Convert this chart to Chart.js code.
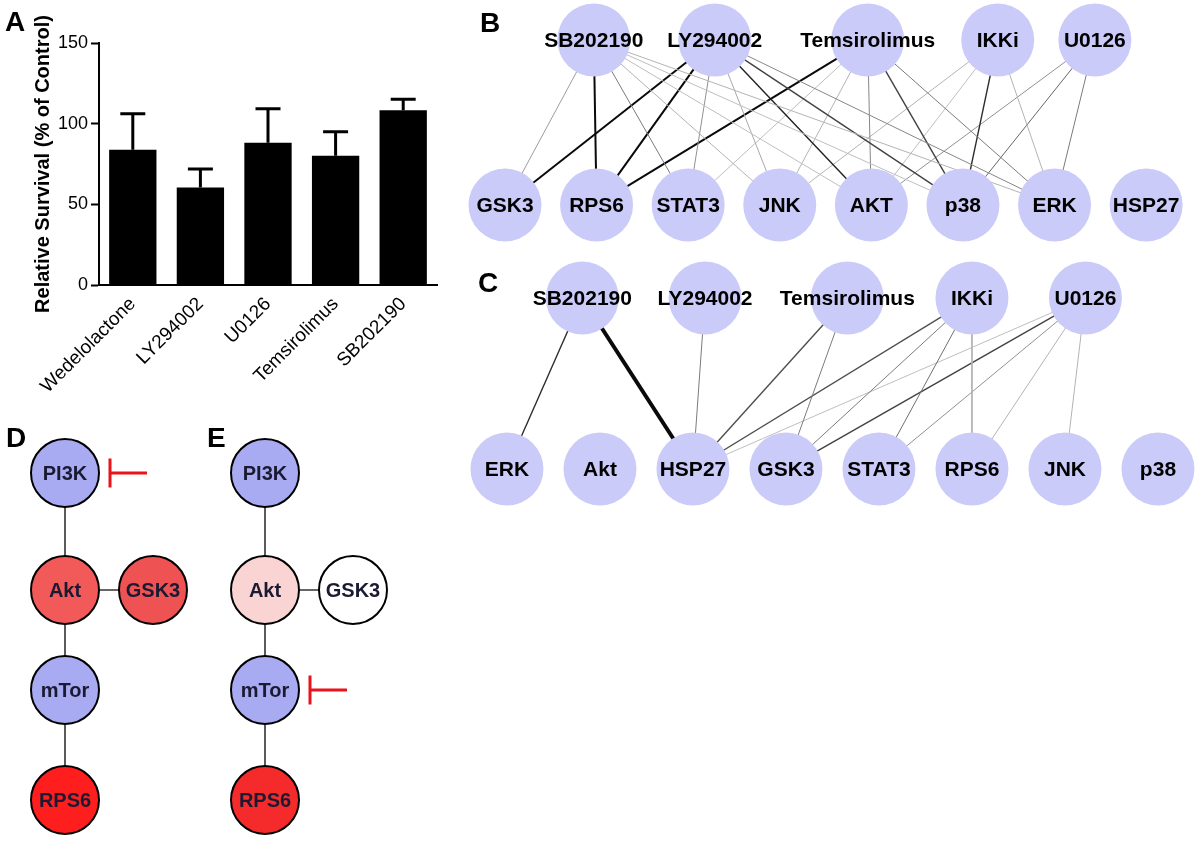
<!DOCTYPE html>
<html>
<head>
<meta charset="utf-8">
<script src="https://cdn.jsdelivr.net/npm/chart.js@4.4.0/dist/chart.umd.min.js"></script>
<style>
  body { margin: 0; background: #fff; }
  #page { position: relative; width: 1200px; height: 850px; background: #fff; overflow: hidden; }
  canvas { position: absolute; }
  .tag { position: absolute; font: bold 28px 'Liberation Sans', Arial, sans-serif; line-height: 28px; color: #000; }
</style>
</head>
<body>
<div id="page">
  <canvas id="chart-a" width="460" height="420" style="left:0;top:0"></canvas>
  <canvas id="chart-b" width="740" height="250" style="left:460px;top:0"></canvas>
  <canvas id="chart-c" width="740" height="300" style="left:460px;top:250px"></canvas>
  <canvas id="chart-de" width="420" height="430" style="left:0;top:420px"></canvas>
  <div class="tag" style="left:5px;top:8px">A</div>
  <div class="tag" style="left:480px;top:9px">B</div>
  <div class="tag" style="left:478px;top:269px">C</div>
  <div class="tag" style="left:6px;top:424px">D</div>
  <div class="tag" style="left:207px;top:424px">E</div>
</div>
<script>
/* Panel A: supervivencia relativa por inhibidor
   Paneles B/C: redes fármaco -> proteína
   Paneles D/E: vía PI3K/Akt/mTor */

const FONT = "'Liberation Sans', Arial, sans-serif";

// ── Datos panel A ────────────────────────────────────────────
const drugs    = ['Wedelolactone', 'LY294002', 'U0126', 'Temsirolimus', 'SB202190'];
const survival = [83.9, 60.5, 88.2, 80.1, 108.3];
const semUp    = [22.3, 11.4, 21.1, 14.9, 6.8];
const yTicks   = [0, 50, 100, 150];

// ── Datos panel B ────────────────────────────────────────────
const bDrugs     = ['SB202190', 'LY294002', 'Temsirolimus', 'IKKi', 'U0126'];
const bDrugSlots = [0.97, 2.29, 3.96, 5.38, 6.44];
const bTargets   = ['GSK3', 'RPS6', 'STAT3', 'JNK', 'AKT', 'p38', 'ERK', 'HSP27'];
const bEdges = [
  ['SB202190', 'GSK3', 0.35], ['SB202190', 'RPS6', 1.0], ['SB202190', 'STAT3', 0.5],
  ['SB202190', 'JNK', 0.25], ['SB202190', 'AKT', 0.2], ['SB202190', 'p38', 0.2],
  ['SB202190', 'ERK', 0.25],
  ['LY294002', 'GSK3', 1.0], ['LY294002', 'RPS6', 1.0], ['LY294002', 'STAT3', 0.4],
  ['LY294002', 'JNK', 0.3], ['LY294002', 'AKT', 0.9], ['LY294002', 'p38', 0.75],
  ['LY294002', 'ERK', 0.45],
  ['Temsirolimus', 'RPS6', 1.0], ['Temsirolimus', 'STAT3', 0.2], ['Temsirolimus', 'JNK', 0.25],
  ['Temsirolimus', 'AKT', 0.45], ['Temsirolimus', 'p38', 0.75], ['Temsirolimus', 'ERK', 0.5],
  ['IKKi', 'JNK', 0.25], ['IKKi', 'AKT', 0.2], ['IKKi', 'p38', 0.85], ['IKKi', 'ERK', 0.25],
  ['U0126', 'AKT', 0.4], ['U0126', 'p38', 0.6], ['U0126', 'ERK', 0.5]
];

// ── Datos panel C ────────────────────────────────────────────
const cDrugs     = ['SB202190', 'LY294002', 'Temsirolimus', 'IKKi', 'U0126'];
const cDrugSlots = [0.81, 2.13, 3.66, 5.0, 6.22];
const cTargets   = ['ERK', 'Akt', 'HSP27', 'GSK3', 'STAT3', 'RPS6', 'JNK', 'p38'];
const cEdges = [
  ['SB202190', 'ERK', 0.85], ['SB202190', 'HSP27', 1.5],
  ['LY294002', 'HSP27', 0.5],
  ['Temsirolimus', 'HSP27', 0.7], ['Temsirolimus', 'GSK3', 0.5],
  ['IKKi', 'HSP27', 0.7], ['IKKi', 'GSK3', 0.5], ['IKKi', 'STAT3', 0.55], ['IKKi', 'RPS6', 0.25],
  ['U0126', 'HSP27', 0.2], ['U0126', 'GSK3', 0.75], ['U0126', 'STAT3', 0.4],
  ['U0126', 'RPS6', 0.25], ['U0126', 'JNK', 0.25]
];

// ── Datos paneles D/E ────────────────────────────────────────
const pathNodes   = ['PI3K', 'Akt', 'GSK3', 'mTor', 'RPS6'];
const pathColumn  = [0, 0, 1, 0, 0];           // 0 = eje principal, 1 = lateral
const pathLevel   = [0.53, 1.70, 1.70, 2.70, 3.80];
const pathEdges   = [['PI3K', 'Akt'], ['Akt', 'GSK3'], ['Akt', 'mTor'], ['mTor', 'RPS6']];
const dColors     = ['#a9abf2', '#f25a5a', '#ef5252', '#a9abf2', '#ff1e1e'];
const eColors     = ['#a9abf2', '#fad3d3', '#ffffff', '#a9abf2', '#f52b2b'];
const dInhibited  = 'PI3K';
const eInhibited  = 'mTor';
const panelOrigin = { D: 0.65, E: 2.65 };
const sideOffset  = 0.88;

// ── Plugins ──────────────────────────────────────────────────

const errorBars = {
  id: 'errorBars',
  afterDatasetsDraw(chart) {
    const ctx = chart.ctx, y = chart.scales.y;
    const meta = chart.getDatasetMeta(0);
    ctx.save();
    ctx.strokeStyle = '#000';
    ctx.lineWidth = 3;
    meta.data.forEach((bar, i) => {
      const top = y.getPixelForValue(survival[i]);
      const hi  = y.getPixelForValue(survival[i] + semUp[i]);
      ctx.beginPath();
      ctx.moveTo(bar.x, top);
      ctx.lineTo(bar.x, hi);
      ctx.moveTo(bar.x - 12.5, hi);
      ctx.lineTo(bar.x + 12.5, hi);
      ctx.stroke();
    });
    ctx.restore();
  }
};

const nodeLabels = {
  id: 'nodeLabels',
  afterDatasetsDraw(chart) {
    const ctx = chart.ctx;
    chart.data.datasets.forEach((ds, i) => {
      if (!ds.isNodes) return;
      const meta = chart.getDatasetMeta(i);
      ctx.save();
      ctx.font = ds.labelFont;
      ctx.fillStyle = ds.labelColor;
      ctx.textAlign = 'center';
      ctx.textBaseline = 'middle';
      meta.data.forEach((pt, j) => ctx.fillText(ds.data[j].label, pt.x, pt.y + 1));
      ctx.restore();
    });
  }
};

// ── Panel A ──────────────────────────────────────────────────

new Chart(document.getElementById('chart-a'), {
  type: 'bar',
  data: {
    labels: drugs,
    datasets: [{
      data: survival,
      backgroundColor: '#000',
      borderWidth: 0,
      categoryPercentage: 1,
      barPercentage: 0.7
    }]
  },
  options: {
    responsive: false,
    animation: false,
    layout: { padding: { top: 43, right: 23, bottom: 0, left: 29 } },
    plugins: { legend: { display: false }, tooltip: { enabled: false } },
    scales: {
      y: {
        min: 0, max: 150,
        afterBuildTicks: s => { s.ticks = yTicks.map(v => ({ value: v })); },
        afterFit: s => { s.width = 70; },
        ticks: { font: { family: FONT, size: 18 }, color: '#000', padding: 3 },
        grid: { drawOnChartArea: false, tickLength: 8, tickWidth: 2, color: '#000' },
        border: { color: '#000', width: 2 },
        title: {
          display: true, text: 'Relative Survival (% of Control)', color: '#000',
          font: { family: FONT, size: 20, weight: 'bold' }, padding: { top: 2, bottom: 0 }
        }
      },
      x: {
        afterFit: s => { s.height = 135; },
        ticks: { minRotation: 45, maxRotation: 45, font: { family: FONT, size: 19 }, color: '#000', padding: 8 },
        grid: { display: true, drawOnChartArea: false, drawTicks: false },
        border: { color: '#000', width: 2 }
      }
    }
  },
  plugins: [errorBars]
});

// ── Paneles B y C (redes) ────────────────────────────────────

function edgeGray(w) {
  const g = Math.max(0, Math.round(235 - 225 * Math.min(w, 1)));
  return `rgb(${g},${g},${g})`;
}
function edgeWidth(w) {
  if (w >= 1.4) return 4;
  if (w >= 0.95) return 2;
  if (w >= 0.7) return 1.4;
  return 1;
}

function drawNetwork(id, topNames, topSlots, bottomNames, edges, xr, yr) {
  const pos = {};
  topNames.forEach((n, i) => { pos['t:' + n] = { x: topSlots[i], y: 1 }; });
  bottomNames.forEach((n, i) => { pos['b:' + n] = { x: i, y: 0 }; });

  const nodes = [
    ...topNames.map(n => ({ ...pos['t:' + n], label: n })),
    ...bottomNames.map(n => ({ ...pos['b:' + n], label: n }))
  ];

  const edgeSets = edges.map(([a, b, w]) => ({
    data: [pos['t:' + a], pos['b:' + b]],
    showLine: true,
    borderColor: edgeGray(w),
    borderWidth: edgeWidth(w),
    pointRadius: 0,
    clip: false,
    order: 1
  }));

  new Chart(document.getElementById(id), {
    type: 'scatter',
    data: {
      datasets: [{
        isNodes: true,
        labelFont: `bold 21px ${FONT}`,
        labelColor: '#000',
        data: nodes,
        pointRadius: 36.5,
        pointHoverRadius: 36.5,
        pointBackgroundColor: '#cbcbf9',
        pointBorderWidth: 0,
        clip: false,
        order: 0
      }, ...edgeSets]
    },
    options: {
      responsive: false,
      animation: false,
      layout: { padding: 0, autoPadding: false },
      plugins: { legend: { display: false }, tooltip: { enabled: false } },
      scales: {
        x: { type: 'linear', display: false, min: xr[0], max: xr[1] },
        y: { type: 'linear', display: false, min: yr[0], max: yr[1] }
      }
    },
    plugins: [nodeLabels]
  });
}

drawNetwork('chart-b', bDrugs, bDrugSlots, bTargets, bEdges, [-0.491, 7.588], [-0.273, 1.242]);
drawNetwork('chart-c', cDrugs, cDrugSlots, cTargets, cEdges, [-0.505, 7.452], [-0.474, 1.281]);

// ── Paneles D y E (vía de señalización) ──────────────────────

function pathPoints(panel) {
  return pathNodes.map((n, i) => ({
    x: panelOrigin[panel] + pathColumn[i] * sideOffset,
    y: pathLevel[i],
    label: n
  }));
}

function inhibitorSets(panel, target) {
  const i = pathNodes.indexOf(target);
  const bx = panelOrigin[panel] + 0.45, ex = bx + 0.37, cy = pathLevel[i];
  const style = { showLine: true, borderColor: '#e8141a', borderWidth: 3, pointRadius: 0, clip: false, order: 1 };
  return [
    { ...style, data: [{ x: bx, y: cy }, { x: ex, y: cy }] },
    { ...style, data: [{ x: bx, y: cy - 0.145 }, { x: bx, y: cy + 0.145 }] }
  ];
}

const dPts = pathPoints('D'), ePts = pathPoints('E');
const pathEdgeSets = [];
[dPts, ePts].forEach(pts => {
  pathEdges.forEach(([a, b]) => {
    pathEdgeSets.push({
      data: [pts[pathNodes.indexOf(a)], pts[pathNodes.indexOf(b)]],
      showLine: true, borderColor: '#333', borderWidth: 1.6, pointRadius: 0, clip: false, order: 1
    });
  });
});

const pathNodeStyle = {
  isNodes: true,
  labelFont: `bold 20px ${FONT}`,
  labelColor: '#1a1a33',
  pointRadius: 34,
  pointHoverRadius: 34,
  pointBorderColor: '#000',
  pointBorderWidth: 2,
  clip: false,
  order: 0
};

new Chart(document.getElementById('chart-de'), {
  type: 'scatter',
  data: {
    datasets: [
      { ...pathNodeStyle, data: dPts, pointBackgroundColor: dColors },
      { ...pathNodeStyle, data: ePts, pointBackgroundColor: eColors },
      ...pathEdgeSets,
      ...inhibitorSets('D', dInhibited),
      ...inhibitorSets('E', eInhibited)
    ]
  },
  options: {
    responsive: false,
    animation: false,
    layout: { padding: 0, autoPadding: false },
    plugins: { legend: { display: false }, tooltip: { enabled: false } },
    scales: {
      x: { type: 'linear', display: false, min: 0, max: 4.2 },
      y: { type: 'linear', display: false, min: 0, max: 4.3, reverse: true }
    }
  },
  plugins: [nodeLabels]
});
</script>
</body>
</html>
